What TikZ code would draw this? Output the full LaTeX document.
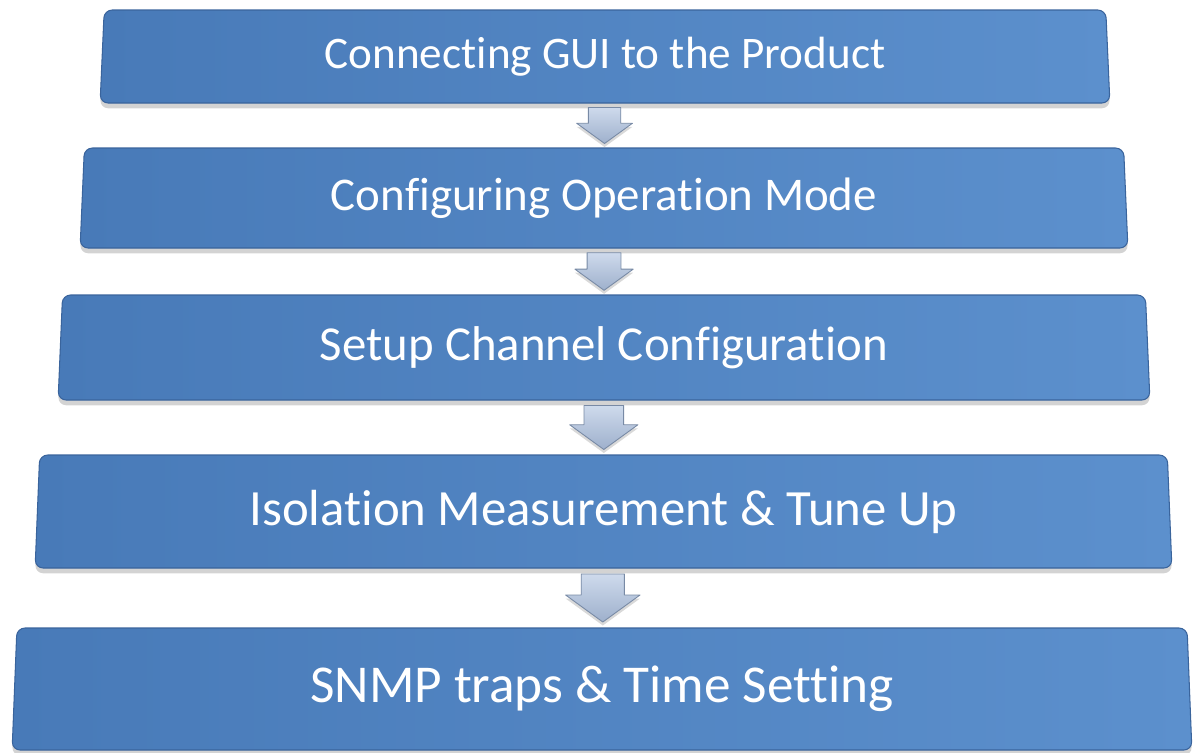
\documentclass[tikz,border=0pt]{standalone}
\usepackage{fontspec}
\setmainfont{Carlito}[Ligatures=NoCommon]
\usetikzlibrary{shapes.geometric,shadows,calc}

\definecolor{boxleft}{RGB}{72,122,184}
\definecolor{boxright}{RGB}{92,144,205}
\definecolor{boxedge}{RGB}{58,100,156}
\definecolor{arrowtop}{RGB}{206,218,236}
\definecolor{arrowbot}{RGB}{158,176,204}
\definecolor{arrowedge}{RGB}{120,138,165}

\tikzset{
  stage/.style={trapezium, trapezium left angle=84, trapezium right angle=84,
    trapezium stretches body, draw=boxedge, line width=0.6pt,
    left color=boxleft, right color=boxright, rounded corners=0.16cm,
    text=white, inner sep=0pt,
    drop shadow={shadow xshift=0pt, shadow yshift=-3pt, opacity=.35}},
  flowarrow/.style={draw=arrowedge, line width=0.5pt, line join=round,
    top color=arrowtop, bottom color=arrowbot,
    drop shadow={shadow xshift=0pt, shadow yshift=-2pt, opacity=.3}}
}

\begin{document}
\begin{tikzpicture}[x=0.02cm,y=-0.02cm]
\useasboundingbox (0,0) rectangle (1194,752);

% the five steps
\node[stage, minimum width=20.2cm, minimum height=1.86cm,
  font=\fontsize{25.7}{30}\selectfont] (gui) at (605,56.5) {Connecting GUI to the Product};
\node[stage, minimum width=20.96cm, minimum height=2.0cm,
  font=\fontsize{26.7}{31}\selectfont] (mode) at (604,198) {Configuring Operation Mode};
\node[stage, minimum width=21.84cm, minimum height=2.1cm,
  font=\fontsize{27.8}{32}\selectfont] (chan) at (604,347.5) {Setup Channel Configuration};
\node[stage, minimum width=22.74cm, minimum height=2.26cm,
  font=\fontsize{28.9}{33}\selectfont] (iso) at (603.5,511.5) {Isolation Measurement \& Tune Up};
\node[stage, minimum width=23.6cm, minimum height=2.44cm,
  font=\fontsize{30.3}{35}\selectfont] (snmp) at (602,689) {SNMP traps \& Time Setting};

% block arrows between the steps
\foreach \a/\b/\g in {gui/mode/45, mode/chan/47, chan/iso/55, iso/snmp/60}
{
\draw[flowarrow, shift={($(\a.south)!.5!(\b.north)$)}, scale=\g]
  (-.36,-.4) -- (.36,-.4) -- (.36,-.05) -- (.62,-.05) -- (0,.4)
  -- (-.62,-.05) -- (-.36,-.05) -- cycle;
}

\end{tikzpicture}
\end{document}
